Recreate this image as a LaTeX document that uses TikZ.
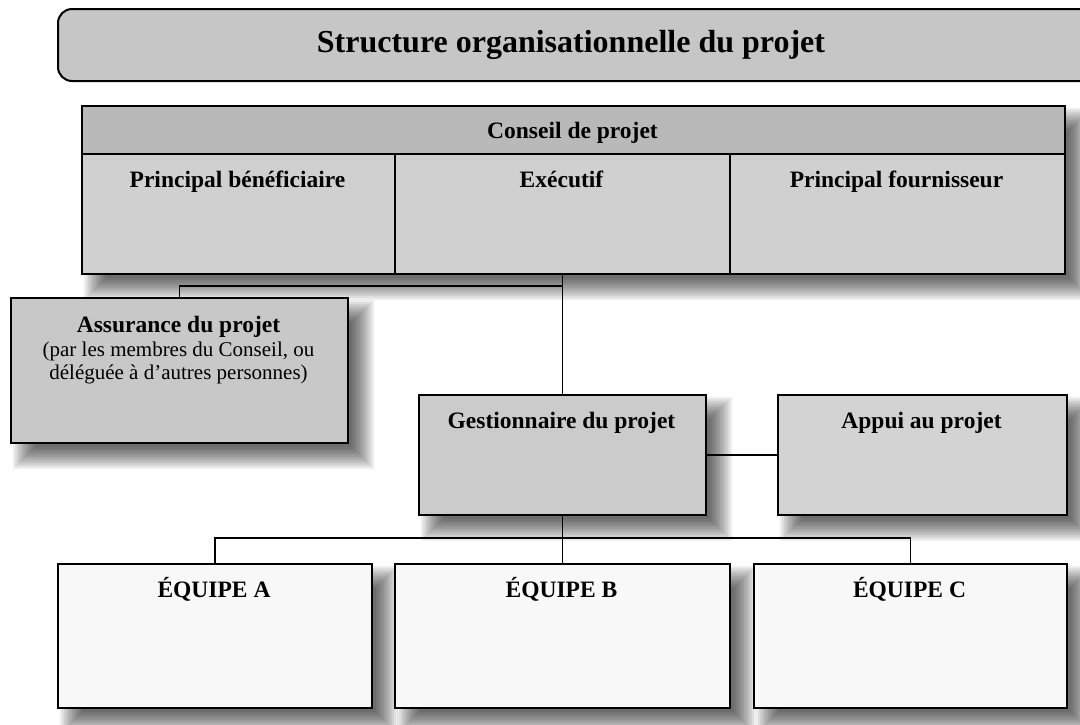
\documentclass[tikz,border=0pt]{standalone}
\usepackage{fontspec}
\setmainfont{Liberation Serif}
\definecolor{titlefill}{HTML}{C6C6C6}
\definecolor{headfill}{HTML}{B9B9B9}
\definecolor{cellfill}{HTML}{D0D0D0}
\definecolor{assfill}{HTML}{C8C8C8}
\definecolor{gestfill}{HTML}{CBCBCB}
\definecolor{appfill}{HTML}{D3D3D3}
\definecolor{teamfill}{HTML}{F8F8F8}
\newcommand{\softshadow}[4]{%
  \foreach \k in {0,...,11}{%
    \fill[black,opacity=0.065] ({#1+3+2*\k},{#2+3+2*\k}) rectangle ({#3+27-2*\k},{#4+27-2*\k});
  }}
\begin{document}
\begin{tikzpicture}[x=1pt,y=-1pt,
  box/.style={draw=black, line width=2pt, rectangle, inner sep=0pt, anchor=north west},
  conn/.style={draw=black, line width=1.8pt},
  ttl/.style={font=\fontsize{23.5}{28}\selectfont\bfseries, anchor=base, inner sep=0pt},
  sub/.style={font=\fontsize{21}{24}\selectfont, anchor=base, inner sep=0pt},
  big/.style={font=\fontsize{32}{36}\selectfont\bfseries, anchor=base, inner sep=0pt}]
\useasboundingbox (0,0) rectangle (1080,724);
\clip (0,0) rectangle (1080,724);
\fill[white] (0,0) rectangle (1080,724);

% shadows
\softshadow{81}{105}{1064}{273}
\softshadow{10}{297}{347}{442}
\softshadow{418}{394}{705}{514}
\softshadow{777}{394}{1066}{514}
\softshadow{57}{563}{371}{707}
\softshadow{394}{563}{729}{707}
\softshadow{753}{563}{1066}{707}

% title
\node[box, rounded corners=14, fill=titlefill, minimum width=1060, minimum height=72] (title) at (57,8) {};
\node[big] (titleT) at (571,52) {Structure organisationnelle du projet};

% Conseil de projet
\node[box, fill=headfill, minimum width=983, minimum height=48] (conseil) at (81,105) {};
\node[box, fill=cellfill, minimum width=313, minimum height=120] (pb) at (81,153) {};
\node[box, fill=cellfill, minimum width=335, minimum height=120] (exec) at (394,153) {};
\node[box, fill=cellfill, minimum width=335, minimum height=120] (pf) at (729,153) {};
\node[ttl] (conseilT) at (572.5,138) {Conseil de projet};
\node[ttl] (pbT) at (237.5,187) {Principal bénéficiaire};
\node[ttl] (execT) at (561.5,187) {Exécutif};
\node[ttl] (pfT) at (896.5,187) {Principal fournisseur};

% connectors
\coordinate (j1) at (561.5,286);
\coordinate (j2) at (561.5,538);

% Assurance
\node[box, fill=assfill, minimum width=337, minimum height=145] (ass) at (10,297) {};
\node[ttl] (assT) at (178.5,332) {Assurance du projet};
\node[sub] (assS1) at (178.5,356) {(par les membres du Conseil, ou};
\node[sub] (assS2) at (178.5,379) {déléguée à d’autres personnes)};

% Gestionnaire / Appui
\node[box, fill=gestfill, minimum width=287, minimum height=120] (gest) at (418,394) {};
\node[ttl] (gestT) at (561.5,428) {Gestionnaire du projet};
\node[box, fill=appfill, minimum width=289, minimum height=120] (appui) at (777,394) {};
\node[ttl] (appuiT) at (921.5,428) {Appui au projet};

% Equipes
\node[box, fill=teamfill, minimum width=314, minimum height=144] (teamA) at (57,563) {};
\node[box, fill=teamfill, minimum width=335, minimum height=144] (teamB) at (394,563) {};
\node[box, fill=teamfill, minimum width=313, minimum height=144] (teamC) at (753,563) {};
\node[ttl] (teamAT) at (214,597) {ÉQUIPE A};
\node[ttl] (teamBT) at (561.5,597) {ÉQUIPE B};
\node[ttl] (teamCT) at (909.5,597) {ÉQUIPE C};

\draw[conn] (exec.south) -- (gest.north);
\draw[conn] (j1) -| (ass.north);
\draw[conn] (gest.east) -- (appui.west);
\draw[conn] (gest.south) -- (teamB.north);
\draw[conn] (teamA.north) |- (j2) -| (teamC.north);
\end{tikzpicture}
\end{document}
